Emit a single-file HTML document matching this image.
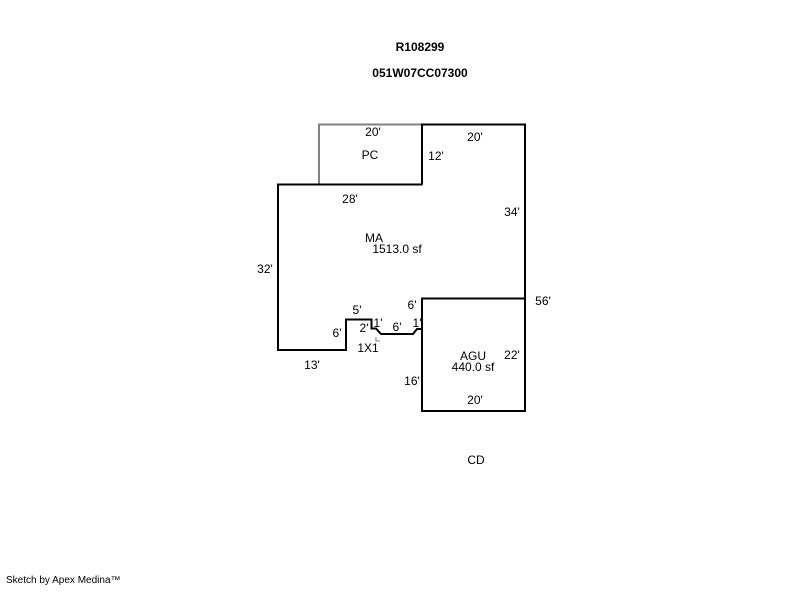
<!DOCTYPE html>
<html><head><style>
body{margin:0;background:#fff;width:800px;height:587px;overflow:hidden}
svg text{font-family:"Liberation Sans",sans-serif;font-size:12px;fill:#000}
</style></head><body>
<svg width="800" height="587" xmlns="http://www.w3.org/2000/svg">
<text x="420" y="51" text-anchor="middle" style="font-weight:bold">R108299</text>
<text x="420" y="77" text-anchor="middle" style="font-weight:bold">051W07CC07300</text>
<rect x="319" y="124.5" width="103" height="60" fill="none" stroke="#808080" stroke-width="2"/>
<path d="M422 184.5 L422 124.5 L525 124.5 L525 298.5 L422 298.5 L422 329 L417 329 L413 334 L381 334 L376 328.5 L371.5 328.5 L371.5 319.5 L346 319.5 L346 350 L278 350 L278 184.5 L422 184.5" fill="none" stroke="#000" stroke-width="2"/>
<rect x="422" y="298.5" width="103" height="112.5" fill="none" stroke="#000" stroke-width="2"/>
<path d="M376 337 L376 341 L380 341" fill="none" stroke="#808080" stroke-width="1"/>
<text x="373" y="136" text-anchor="middle">20'</text>
<text x="370" y="159" text-anchor="middle">PC</text>
<text x="436" y="160" text-anchor="middle">12'</text>
<text x="475" y="141" text-anchor="middle">20'</text>
<text x="350" y="203" text-anchor="middle">28'</text>
<text x="512" y="216" text-anchor="middle">34'</text>
<text x="374" y="242" text-anchor="middle">MA</text>
<text x="397" y="253" text-anchor="middle">1513.0 sf</text>
<text x="265" y="273" text-anchor="middle">32'</text>
<text x="543" y="305" text-anchor="middle">56'</text>
<text x="412" y="309" text-anchor="middle">6'</text>
<text x="357" y="314" text-anchor="middle">5'</text>
<text x="337" y="337" text-anchor="middle">6'</text>
<text x="364" y="332" text-anchor="middle">2'</text>
<text x="378" y="327" text-anchor="middle">1'</text>
<text x="397" y="331" text-anchor="middle">6'</text>
<text x="417" y="327" text-anchor="middle">1'</text>
<text x="368" y="352" text-anchor="middle">1X1</text>
<text x="473" y="360" text-anchor="middle">AGU</text>
<text x="473" y="371" text-anchor="middle">440.0 sf</text>
<text x="512" y="359" text-anchor="middle">22'</text>
<text x="412" y="385" text-anchor="middle">16'</text>
<text x="312" y="369" text-anchor="middle">13'</text>
<text x="475" y="404" text-anchor="middle">20'</text>
<text x="476" y="464" text-anchor="middle">CD</text>
<text x="6" y="583" style="font-size:10px">Sketch by Apex Medina™</text>
</svg>
</body></html>
